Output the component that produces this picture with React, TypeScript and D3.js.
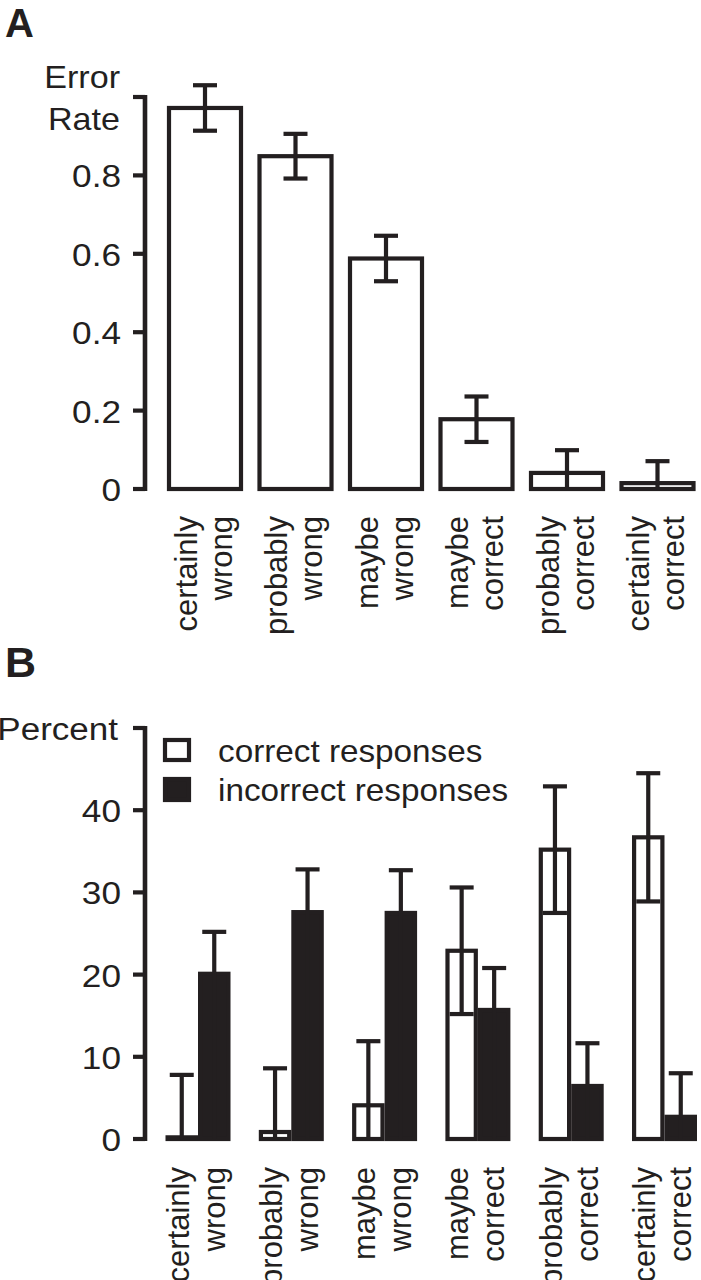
import React from "react";
import * as d3 from "d3";

// ---------- data ----------
const categoryTop = ["certainly", "probably", "maybe", "maybe", "probably", "certainly"];
const categoryBottom = ["wrong", "wrong", "wrong", "correct", "correct", "correct"];
const categoryKeys = ["cw", "pw", "mw", "mc", "pc", "cc"];

const errorRate = [0.972, 0.849, 0.588, 0.178, 0.041, 0.015];
const errorRateSem = [0.058, 0.057, 0.058, 0.058, 0.058, 0.056];
const errorTicks = [0, 0.2, 0.4, 0.6, 0.8, 1.0];
const errorTickLabels = ["0", "0.2", "0.4", "0.6", "0.8", ""];

const seriesKeys = ["correct", "incorrect"];
const seriesLabels = ["correct responses", "incorrect responses"];
const correctPct = [0.2, 0.85, 4.1, 22.9, 35.2, 36.7];
const correctSem = [7.6, 7.75, 7.8, 7.7, 7.7, 7.8];
const incorrectPct = [20.1, 27.6, 27.5, 15.7, 6.45, 2.7];
const incorrectSem = [5.1, 5.2, 5.2, 5.1, 5.2, 5.3];
const percentTicks = [0, 10, 20, 30, 40, 50];
const percentTickLabels = ["0", "10", "20", "30", "40", ""];

// ---------- style ----------
const FONT = "'Liberation Sans', Arial, Helvetica, sans-serif";
const INK = "#231f20";
const SW = 4.2;
const SX = 1.1; // horizontal widening of upright text
const CAP = 24;

function HText(props: { x: number; y: number; size: number; anchor?: string; children: React.ReactNode; sx?: number }) {
  const sx = props.sx ?? SX;
  return (
    <text
      transform={`translate(${props.x},${props.y}) scale(${sx},1)`}
      fontSize={props.size}
      fontFamily={FONT}
      fill={INK}
      textAnchor={props.anchor ?? "end"}
    >
      {props.children}
    </text>
  );
}

function VLabel(props: { x: number; top: number; text: string }) {
  return (
    <text
      transform={`translate(${props.x},${props.top}) rotate(-90)`}
      fontSize={31}
      fontFamily={FONT}
      fill={INK}
      textAnchor="end"
    >
      {props.text}
    </text>
  );
}

function ErrorBar(props: { x: number; y0: number; yTop: number; yBot: number | null }) {
  const { x, y0, yTop, yBot } = props;
  return (
    <g stroke={INK} strokeWidth={SW} fill="none">
      <line x1={x} x2={x} y1={yBot ?? y0} y2={yTop} />
      <line x1={x - CAP / 2} x2={x + CAP / 2} y1={yTop} y2={yTop} />
      {yBot !== null && <line x1={x - CAP / 2} x2={x + CAP / 2} y1={yBot} y2={yBot} />}
    </g>
  );
}

function YAxis(props: { x: number; scale: d3.ScaleLinear<number, number>; ticks: number[]; labels: string[] }) {
  const { x, scale, ticks, labels } = props;
  const [lo, hi] = d3.extent(ticks) as [number, number];
  return (
    <g>
      <line x1={x} x2={x} y1={scale(lo) + SW / 2} y2={scale(hi) - SW / 2} stroke={INK} strokeWidth={4.6} />
      {ticks.map((t, i) => (
        <g key={i}>
          <line x1={x - 12} x2={x} y1={scale(t)} y2={scale(t)} stroke={INK} strokeWidth={SW} />
          {labels[i] && (
            <HText x={x - 24} y={scale(t) + 12} size={32}>
              {labels[i]}
            </HText>
          )}
        </g>
      ))}
    </g>
  );
}

function PanelA() {
  const y = d3.scaleLinear().domain([0, 1]).range([489, 97]);
  const x = d3.scalePoint<string>().domain(categoryKeys).range([205, 657.5]);
  const barW = 72;
  return (
    <g>
      <text x={5} y={37} fontSize={40} fontWeight="bold" fontFamily={FONT} fill={INK}>A</text>
      <HText x={120} y={88} size={31}>Error</HText>
      <HText x={120} y={130} size={31}>Rate</HText>
      <YAxis x={145} scale={y} ticks={errorTicks} labels={errorTickLabels} />
      {categoryKeys.map((k, i) => {
        const cx = x(k) as number;
        const v = errorRate[i];
        const e = errorRateSem[i];
        const lower = v - e;
        return (
          <g key={k}>
            <rect x={cx - barW / 2} y={y(v)} width={barW} height={y(0) - y(v)} fill="#fff" stroke={INK} strokeWidth={SW} />
            <ErrorBar x={cx} y0={y(0)} yTop={y(v + e)} yBot={lower > 0 ? y(lower) : null} />
            <VLabel x={cx - 8.5} top={516} text={categoryTop[i]} />
            <VLabel x={cx + 26.5} top={516} text={categoryBottom[i]} />
          </g>
        );
      })}
    </g>
  );
}

function PanelB() {
  const y = d3.scaleLinear().domain([0, 50]).range([1139, 728]);
  const x = d3.scalePoint<string>().domain(categoryKeys).range([198.5, 665]);
  const sub = d3.scaleBand<string>().domain(seriesKeys).range([-33, 32]).paddingInner(0);
  const bw = sub.bandwidth();
  const vals = [correctPct, incorrectPct];
  const sems = [correctSem, incorrectSem];
  return (
    <g>
      <text x={5} y={677} fontSize={43} fontWeight="bold" fontFamily={FONT} fill={INK}>B</text>
      <HText x={118} y={740} size={31} sx={1.13}>Percent</HText>
      <YAxis x={145} scale={y} ticks={percentTicks} labels={percentTickLabels} />
      {/* legend */}
      <g>
        <rect x={165} y={740} width={24} height={20} fill="#fff" stroke={INK} strokeWidth={SW} />
        <rect x={165} y={779} width={24} height={21} fill={INK} stroke={INK} strokeWidth={SW} />
        <HText x={218} y={762} size={32} anchor="start" sx={1.04}>{seriesLabels[0]}</HText>
        <HText x={218} y={801} size={32} anchor="start" sx={1.04}>{seriesLabels[1]}</HText>
      </g>
      {categoryKeys.map((k, i) => {
        const cx = x(k) as number;
        return (
          <g key={k}>
            {seriesKeys.map((s, j) => {
              const v = vals[j][i];
              const e = sems[j][i];
              const x0 = cx + (sub(s) as number);
              const filled = s === "incorrect";
              const lower = v - e;
              return (
                <g key={s}>
                  <rect
                    x={x0 + SW / 2}
                    y={y(v)}
                    width={bw - SW}
                    height={Math.max(0, y(0) - y(v))}
                    fill={filled ? INK : "#fff"}
                    stroke={INK}
                    strokeWidth={SW}
                  />
                  <ErrorBar
                    x={x0 + bw / 2}
                    y0={y(0)}
                    yTop={y(v + e)}
                    yBot={!filled && lower > 0 ? y(lower) : null}
                  />
                </g>
              );
            })}
            <VLabel x={cx - 10} top={1167} text={categoryTop[i]} />
            <VLabel x={cx + 26} top={1167} text={categoryBottom[i]} />
          </g>
        );
      })}
    </g>
  );
}

export default function App() {
  return (
    <svg width={701} height={1280} style={{ display: "block", position: "absolute", left: 0, top: 0, background: "#fff" }}>
      <rect width={701} height={1280} fill="#fff" />
      <PanelA />
      <PanelB />
    </svg>
  );
}
